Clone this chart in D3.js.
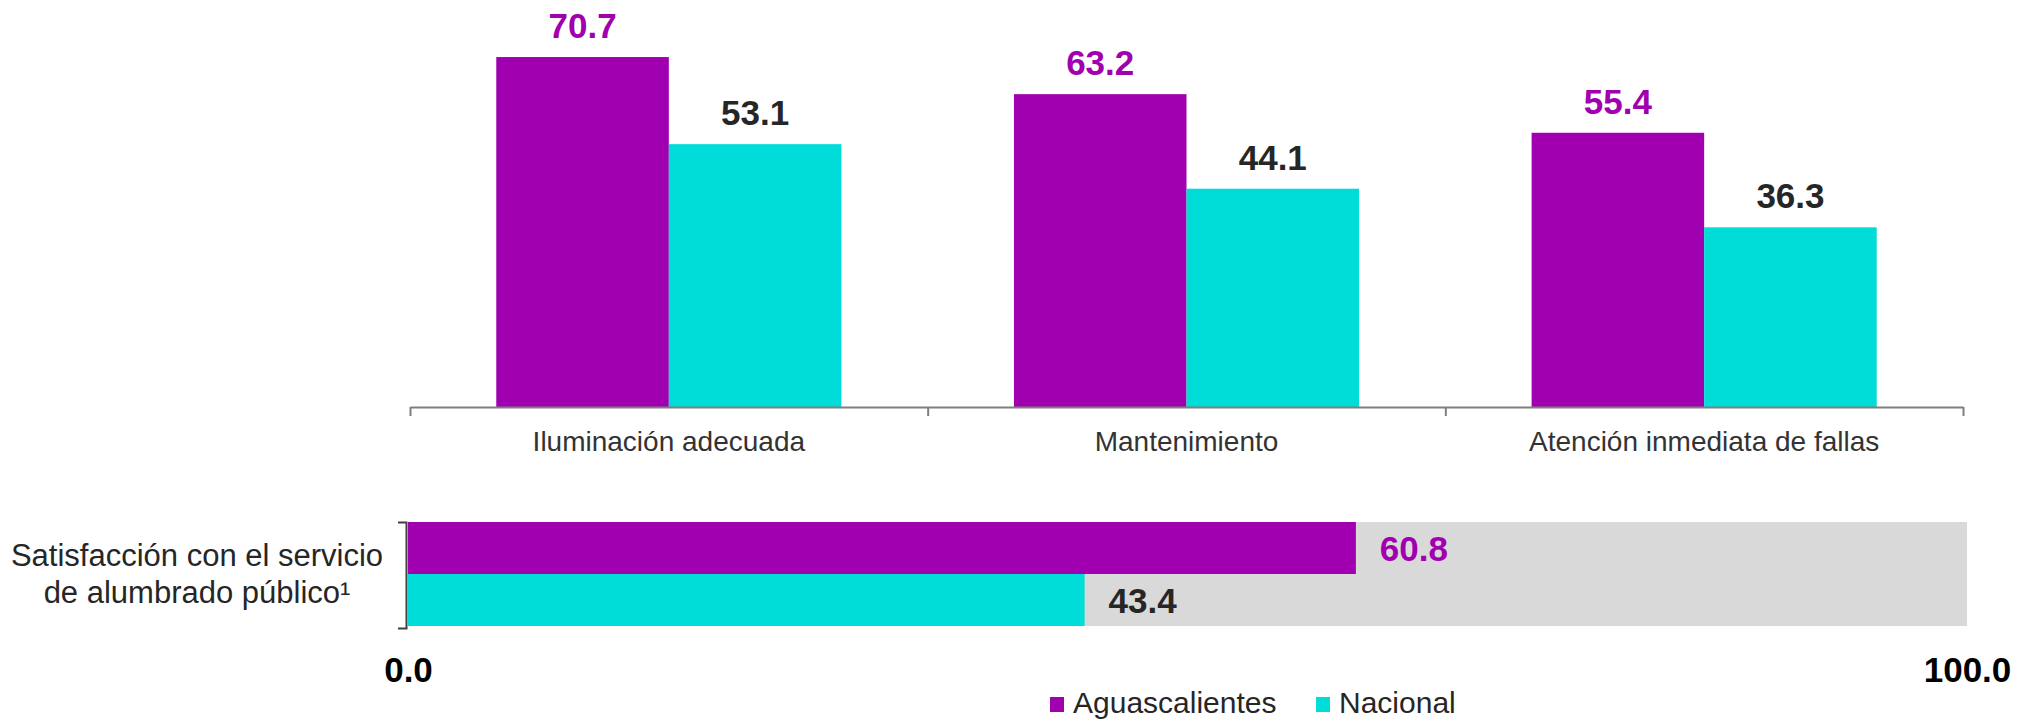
<!DOCTYPE html>
<html>
<head>
<meta charset="utf-8">
<script src="https://cdn.jsdelivr.net/npm/d3@7"></script>
<style>
  body { margin: 0; background: #fff; }
  text { font-family: "Liberation Sans", Arial, sans-serif; }
</style>
</head>
<body>
<div id="chart"></div>
<script>
var w = 2024;
var h = 721;

// data
var categories = ['Iluminación adecuada', 'Mantenimiento', 'Atención inmediata de fallas'];
var series = ['Aguascalientes', 'Nacional'];
var aguascalientes = [70.7, 63.2, 55.4];
var nacional = [53.1, 44.1, 36.3];
var satisfLabel = ['Satisfacción con el servicio', 'de alumbrado público¹'];
var satisfValues = [60.8, 43.4];
var satisfTicks = [0, 100];

var colors = d3.scaleOrdinal().domain(series).range(['#a000b0', '#00dcd8']);
var labelColors = d3.scaleOrdinal().domain(series).range(['#a000b0', '#262626']);

var svg = d3.select('#chart')
            .append('svg')
            .attr('width', w)
            .attr('height', h);

// ---- top grouped bars ----
var x0 = d3.scaleBand()
           .domain(categories)
           .range([410, 1963])
           .paddingInner(1/3)
           .paddingOuter(1/6);

var x1 = d3.scaleBand()
           .domain(series)
           .range([0, x0.bandwidth()]);

var y = d3.scaleLinear()
          .domain([0, 80])
          .range([407, 11]);

var rows = categories.map(function(c, i) {
    return {cat: c, vals: [
        {s: 'Aguascalientes', v: aguascalientes[i]},
        {s: 'Nacional', v: nacional[i]}
    ]};
});

var groups = svg.append('g')
                .selectAll('g')
                .data(rows)
                .enter()
                .append('g')
                .attr('transform', function(d) { return 'translate(' + x0(d.cat) + ',0)'; });

groups.selectAll('rect')
      .data(function(d) { return d.vals; })
      .enter()
      .append('rect')
      .attr('x', function(d) { return x1(d.s); })
      .attr('y', function(d) { return y(d.v); })
      .attr('width', x1.bandwidth())
      .attr('height', function(d) { return y(0) - y(d.v); })
      .style('fill', function(d) { return colors(d.s); });

groups.selectAll('text')
      .data(function(d) { return d.vals; })
      .enter()
      .append('text')
      .attr('x', function(d) { return x1(d.s) + x1.bandwidth() / 2; })
      .attr('y', function(d) { return y(d.v) - 19; })
      .attr('text-anchor', 'middle')
      .style('font-size', '35px')
      .style('font-weight', 'bold')
      .style('fill', function(d) { return labelColors(d.s); })
      .text(function(d) { return d.v.toFixed(1); });

// category axis, ticks between the groups
var xb = d3.scaleLinear().domain([0, categories.length]).range([410, 1963]);
var catAxis = svg.append('g')
                 .attr('transform', 'translate(0,' + y(0) + ')')
                 .call(d3.axisBottom(xb)
                         .tickValues(d3.range(categories.length + 1))
                         .tickSize(9)
                         .tickSizeOuter(0)
                         .tickFormat(''));
catAxis.selectAll('path, line').attr('stroke', '#7f7f7f').attr('stroke-width', 2);

svg.append('g')
   .selectAll('text')
   .data(categories)
   .enter()
   .append('text')
   .attr('x', function(d) { return x0(d) + x0.bandwidth() / 2; })
   .attr('y', 451)
   .attr('text-anchor', 'middle')
   .style('font-size', '28px')
   .style('fill', '#333')
   .text(function(d) { return d; });

// ---- satisfaction horizontal bars ----
var xh = d3.scaleLinear()
           .domain([0, 100])
           .range([408, 1967]);

var yh = d3.scaleBand()
           .domain(series)
           .range([522, 626]);

svg.append('rect')
   .attr('x', xh(0))
   .attr('y', yh.range()[0])
   .attr('width', xh(100) - xh(0))
   .attr('height', yh.range()[1] - yh.range()[0])
   .style('fill', '#d9d9d9');

var hData = series.map(function(s, i) { return {s: s, v: satisfValues[i]}; });

svg.append('g')
   .selectAll('rect')
   .data(hData)
   .enter()
   .append('rect')
   .attr('x', xh(0))
   .attr('y', function(d) { return yh(d.s); })
   .attr('width', function(d) { return xh(d.v) - xh(0); })
   .attr('height', yh.bandwidth())
   .style('fill', function(d) { return colors(d.s); });

svg.append('g')
   .selectAll('text')
   .data(hData)
   .enter()
   .append('text')
   .attr('x', function(d) { return xh(d.v) + 24; })
   .attr('y', function(d) { return yh(d.s) + yh.bandwidth() / 2 + 13; })
   .style('font-size', '35px')
   .style('font-weight', 'bold')
   .style('fill', function(d) { return labelColors(d.s); })
   .text(function(d) { return d.v.toFixed(1); });

// bracket on the left
var yb = d3.scaleLinear().domain([0, 1]).range([522, 628]);
var bracket = svg.append('g')
                 .attr('transform', 'translate(406,0)')
                 .call(d3.axisLeft(yb).tickValues([]).tickSizeOuter(8));
bracket.selectAll('path').attr('stroke', '#404040').attr('stroke-width', 2);

svg.append('text')
   .attr('text-anchor', 'middle')
   .style('font-size', '31px')
   .style('fill', '#262626')
   .selectAll('tspan')
   .data(satisfLabel)
   .enter()
   .append('tspan')
   .attr('x', 197)
   .attr('y', function(d, i) { return 566 + i * 37; })
   .text(function(d) { return d; });

// 0.0 / 100.0 scale labels
var hAxis = svg.append('g')
               .attr('transform', 'translate(0,655)')
               .call(d3.axisBottom(xh)
                       .tickValues(satisfTicks)
                       .tickSize(0)
                       .tickPadding(0)
                       .tickFormat(d3.format('.1f')));
hAxis.select('.domain').remove();
hAxis.selectAll('text')
     .attr('dy', null)
     .attr('y', 27)
     .style('font-family', '"Liberation Sans", Arial, sans-serif')
     .style('font-size', '35px')
     .style('font-weight', 'bold')
     .style('fill', '#000');

// legend
var legendX = [1050, 1316];
var legend = svg.append('g')
                .selectAll('g')
                .data(series)
                .enter()
                .append('g')
                .attr('transform', function(d, i) { return 'translate(' + legendX[i] + ',697)'; });

legend.append('rect')
      .attr('width', 14)
      .attr('height', 15)
      .style('fill', function(d) { return colors(d); });

legend.append('text')
      .attr('x', 23)
      .attr('y', 16)
      .style('font-size', '30px')
      .style('fill', '#262626')
      .text(function(d) { return d; });
</script>
</body>
</html>
